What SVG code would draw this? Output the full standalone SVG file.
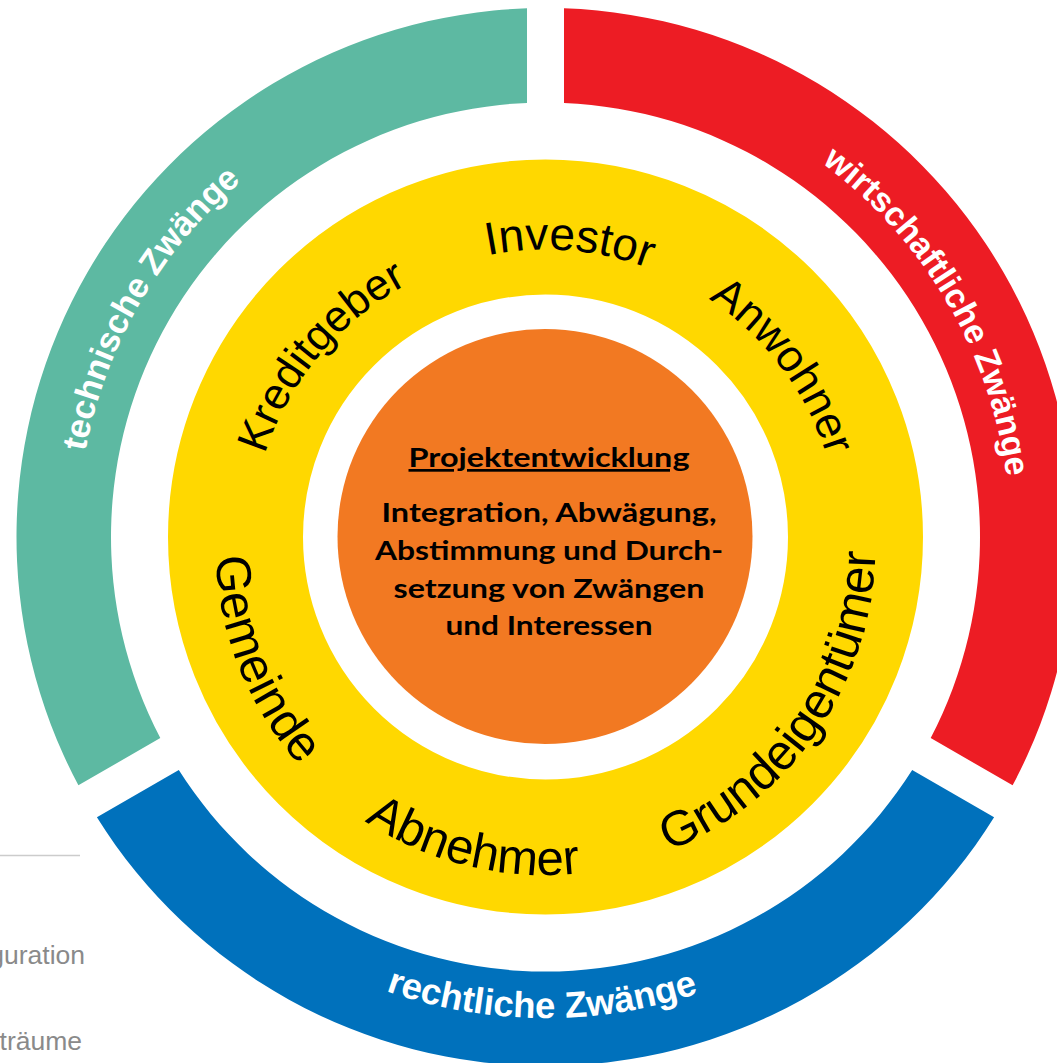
<svg xmlns="http://www.w3.org/2000/svg" xmlns:xlink="http://www.w3.org/1999/xlink" width="1057" height="1063" viewBox="0 0 1057 1063">
  <style>
    .seg-label { font-family: "Liberation Sans", Arial, sans-serif; font-weight: 700; fill: #ffffff; }
    .actor { font-family: "Liberation Sans", Arial, sans-serif; font-weight: 400; fill: #000000; }
    .core { font-family: Lato, "Open Sans", sans-serif; font-weight: 700; fill: #000000; text-anchor: middle; }
    .margin { font-family: "Liberation Sans", Arial, sans-serif; fill: #8a8a8a; font-size: 26.5px; text-anchor: end; }
  </style>
  <defs>
    <path id="p-tech" d="M 140.2 771 A 468 468 0 0 1 545.5 69"/>
    <path id="p-wirt" d="M 541.44 72.02 A 465 465 0 0 1 950.22 765.98"/>
    <path id="p-recht" d="M 127.17 774.58 A 481 481 0 0 0 960.37 780.4"/>
    <path id="p-kredit" d="M 268.29 645.9 A 295 295 0 0 1 596.73 254.48"/>
    <path id="p-invest" d="M 307.11 371.09 A 295 295 0 0 1 808.69 411.06"/>
    <path id="p-anwohn" d="M 509.55 252.2 A 295 295 0 0 1 817.05 660.27"/>
    <path id="p-gemeinde" d="M 285.46 341.83 A 330 330 0 0 0 499.57 871.79"/>
    <path id="p-abnehm" d="M 228.93 638.17 A 330 330 0 0 0 784.48 772.57"/>
    <path id="p-grund" d="M 519.03 873.94 A 330 330 0 0 0 843.56 403.45"/>
  </defs>
  <rect x="0" y="0" width="1057" height="1063" fill="#ffffff"/>

  <g id="margin">
    <line x1="0" y1="855.5" x2="80" y2="855.5" stroke="#cccccc" stroke-width="1.5"/>
    <text class="margin" x="85" y="964">guration</text>
    <text class="margin" x="82" y="1050">träume</text>
  </g>

  <g id="outer-ring">
    <g id="technische-zwaenge">
      <path d="M 527 8.324 A 529 529 0 0 0 78.403 785.317 L 160.303 738.032 A 434.5 434.5 0 0 1 527 102.894 Z" fill="#5db9a2"/>
      <text class="seg-label" font-size="34.5" text-anchor="middle"><textPath xlink:href="#p-tech" href="#p-tech" startOffset="50%">technische Zwänge</textPath></text>
    </g>
    <g id="wirtschaftliche-zwaenge">
      <path d="M 564 8.324 A 529 529 0 0 1 1012.597 785.317 L 930.697 738.032 A 434.5 434.5 0 0 0 564 102.894 Z" fill="#ed1c24"/>
      <text class="seg-label" font-size="34" text-anchor="middle"><textPath xlink:href="#p-wirt" href="#p-wirt" startOffset="50%">wirtschaftliche Zwänge</textPath></text>
    </g>
    <g id="rechtliche-zwaenge">
      <path d="M 96.903 817.36 A 529 529 0 0 0 994.097 817.36 L 912.197 770.075 A 434.5 434.5 0 0 1 178.803 770.075 Z" fill="#0071bc"/>
      <text class="seg-label" font-size="36.5" text-anchor="middle"><textPath xlink:href="#p-recht" href="#p-recht" startOffset="50%">rechtliche Zwänge</textPath></text>
    </g>
  </g>

  <g id="actors-ring">
    <circle cx="545.5" cy="537" r="310" fill="none" stroke="#ffd800" stroke-width="135"/>
    <g id="kreditgeber"><text class="actor" font-size="44" text-anchor="middle"><textPath xlink:href="#p-kredit" href="#p-kredit" startOffset="50%">Kreditgeber</textPath></text></g>
    <g id="investor"><text class="actor" font-size="46" text-anchor="middle"><textPath xlink:href="#p-invest" href="#p-invest" startOffset="50%">Investor</textPath></text></g>
    <g id="anwohner"><text class="actor" font-size="44.5" text-anchor="middle"><textPath xlink:href="#p-anwohn" href="#p-anwohn" startOffset="50%">Anwohner</textPath></text></g>
    <g id="gemeinde"><text class="actor" font-size="49" letter-spacing="0.5" text-anchor="middle"><textPath xlink:href="#p-gemeinde" href="#p-gemeinde" startOffset="50%">Gemeinde</textPath></text></g>
    <g id="abnehmer"><text class="actor" font-size="49" text-anchor="middle"><textPath xlink:href="#p-abnehm" href="#p-abnehm" startOffset="50%">Abnehmer</textPath></text></g>
    <g id="grundeigentuemer"><text class="actor" font-size="49.5" text-anchor="middle"><textPath xlink:href="#p-grund" href="#p-grund" startOffset="50%">Grundeigentümer</textPath></text></g>
  </g>

  <g id="projektentwicklung">
    <circle cx="545" cy="536.5" r="207.5" fill="#f27922"/>
    <text class="core" x="549" y="467" font-size="27" text-decoration="underline" textLength="281" lengthAdjust="spacingAndGlyphs">Projektentwicklung</text>
    <text class="core" x="549" y="522" font-size="27.5" textLength="335" lengthAdjust="spacingAndGlyphs">Integration, Abwägung,</text>
    <text class="core" x="549" y="560" font-size="27.5" textLength="348" lengthAdjust="spacingAndGlyphs">Abstimmung und Durch-</text>
    <text class="core" x="549" y="598" font-size="27.5" textLength="311" lengthAdjust="spacingAndGlyphs">setzung von Zwängen</text>
    <text class="core" x="549" y="635" font-size="27.5" textLength="207" lengthAdjust="spacingAndGlyphs">und Interessen</text>
  </g>

  <g id="connectors"/>
</svg>
